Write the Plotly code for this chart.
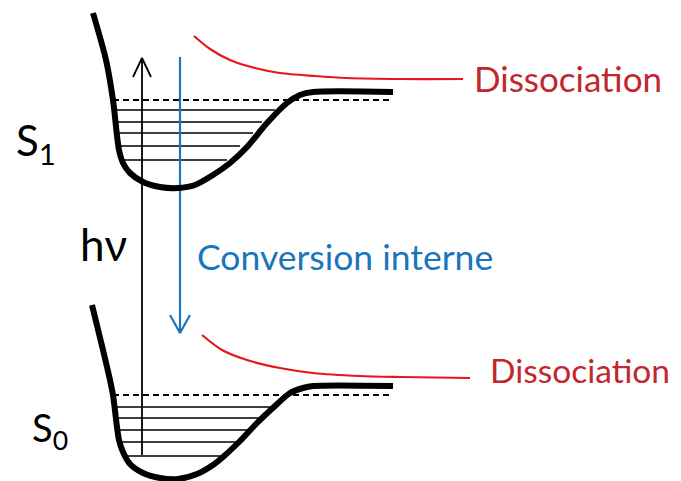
import plotly.graph_objects as go

# ---- data (diagram coordinates in a 681 x 481 frame, y downward) ----
s1_curve_x = [93, 106, 113, 119, 123, 130, 143, 160, 178, 195, 213, 230, 247, 267, 287, 300, 313, 393]
s1_curve_y = [13, 60, 100, 150, 163, 173, 182, 187, 188, 185, 175, 163, 147, 123, 103, 95, 92, 92]
s0_curve_x = [92, 103, 110, 113, 119, 123, 130, 143, 160, 178, 197, 213, 223, 240, 257, 275, 290, 303, 313, 393]
s0_curve_y = [305, 350, 380, 395, 440, 452, 464, 473, 478, 479, 474, 465, 457, 441, 423, 406, 393, 388, 386, 386]

s1_level_y = [110, 122, 133, 146, 160]
s1_level_left = [115, 116, 117, 119, 124]
s1_level_right = [275, 262, 253, 240, 227]
s0_level_y = [407, 418, 430, 442, 456]
s0_level_left = [115, 116, 117, 119, 124]
s0_level_right = [270, 262, 248, 237, 223]

s1_dash = dict(y=100, x0=113, x1=390)
s0_dash = dict(y=395, x0=113, x1=393)

diss1_x = [194, 210, 230, 255, 280, 315, 347, 400, 463]
diss1_y = [36, 49, 60, 68, 73, 76, 78, 79, 79]
diss0_x = [202, 222, 247, 280, 313, 360, 400, 470]
diss0_y = [335, 350, 360, 368, 373, 376, 377, 378]

hv_arrow = dict(x=142, y0=455, y1=58)
ic_arrow = dict(x=180, y0=57, y1=333)

labels = ["S<sub>1</sub>", "S<sub>0</sub>", "hν", "Conversion interne", "Dissociation", "Dissociation"]

BLACK = "#000000"
RED = "#E8141E"
DARKRED = "#C1272D"
BLUE = "#1B75BC"

PAGE_OFFSET = 8  # default body margin of the page

fig = go.Figure()

def line(x, y, color, width, dash=None, spline=False):
    fig.add_trace(go.Scatter(
        x=x, y=y, mode="lines", hoverinfo="skip", showlegend=False,
        line=dict(color=color, width=width, dash=dash,
                  shape="spline" if spline else "linear", smoothing=0.8)))

# vibrational levels
for ys, ls, rs in [(s1_level_y, s1_level_left, s1_level_right),
                   (s0_level_y, s0_level_left, s0_level_right)]:
    for yy, l, r in zip(ys, ls, rs):
        line([l, r], [yy, yy], BLACK, 1.5)

# dashed dissociation limits
for d in (s1_dash, s0_dash):
    line([d["x0"], d["x1"]], [d["y"], d["y"]], BLACK, 2.2, dash="6px,4px")

# hv arrow (black, upward)
line([hv_arrow["x"], hv_arrow["x"]], [hv_arrow["y0"], hv_arrow["y1"]], BLACK, 1.8)
line([hv_arrow["x"] - 9, hv_arrow["x"], hv_arrow["x"] + 9],
     [hv_arrow["y1"] + 19, hv_arrow["y1"], hv_arrow["y1"] + 19], BLACK, 1.8)

# internal conversion arrow (blue, downward)
line([ic_arrow["x"], ic_arrow["x"]], [ic_arrow["y0"], ic_arrow["y1"]], BLUE, 2.2)
line([ic_arrow["x"] - 10, ic_arrow["x"], ic_arrow["x"] + 10],
     [ic_arrow["y1"] - 18, ic_arrow["y1"], ic_arrow["y1"] - 18], BLUE, 2.2)

# potential wells
line(s1_curve_x, s1_curve_y, BLACK, 6, spline=True)
line(s0_curve_x, s0_curve_y, BLACK, 6, spline=True)

# dissociative curves
line(diss1_x, diss1_y, RED, 2.2, spline=True)
line(diss0_x, diss0_y, RED, 2.2, spline=True)

FONT = "Lato, 'Open Sans', sans-serif"
ann = [
    dict(text=labels[0], x=14, y=143, size=42, color=BLACK),
    dict(text=labels[1], x=30, y=430, size=38, color=BLACK),
    dict(text=labels[2], x=78, y=244, size=44, color=BLACK),
    dict(text=labels[3], x=195, y=256, size=35.5, color=BLUE),
    dict(text=labels[4], x=472, y=78, size=35, color=DARKRED),
    dict(text=labels[5], x=488, y=370, size=33.5, color=DARKRED),
]
for a in ann:
    fig.add_annotation(x=a["x"], y=a["y"], text=a["text"], showarrow=False,
                       xanchor="left", yanchor="middle",
                       font=dict(family=FONT, size=a["size"], color=a["color"]))

fig.update_layout(
    width=681 - PAGE_OFFSET, height=481 - PAGE_OFFSET,
    margin=dict(l=0, r=0, t=0, b=0, pad=0),
    paper_bgcolor="white", plot_bgcolor="white",
    xaxis=dict(range=[PAGE_OFFSET, 681], visible=False, fixedrange=True),
    yaxis=dict(range=[481, PAGE_OFFSET], visible=False, fixedrange=True),
    showlegend=False,
)

fig.write_html("out.html")
